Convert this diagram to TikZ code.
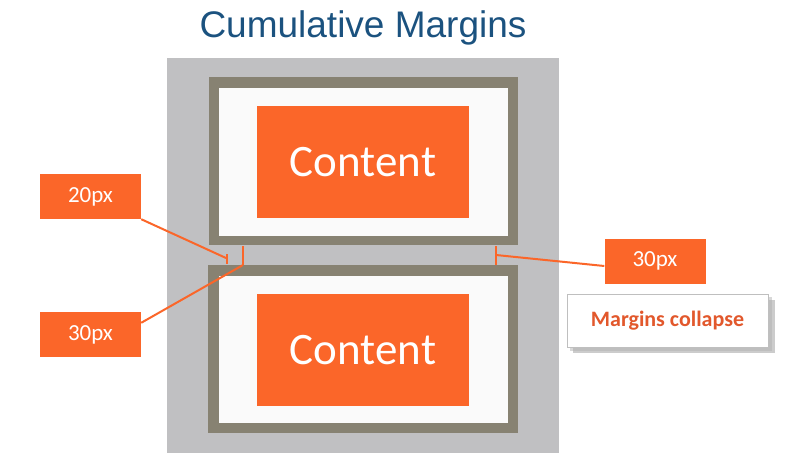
\documentclass[tikz,border=0pt]{standalone}
\usepackage{fontspec}
\setmainfont{Carlito}
\newfontfamily\titlefont{Liberation Sans}
\usetikzlibrary{calc}
\definecolor{bggray}{HTML}{C0C0C2}
\definecolor{taupe}{HTML}{878272}
\definecolor{innerw}{HTML}{FAFAFA}
\definecolor{orng}{HTML}{FB6629}
\definecolor{ttlblue}{HTML}{1B527F}
\definecolor{mctext}{HTML}{E2582C}
\tikzset{
  contentbox/.style={fill=orng, text=white, inner sep=0pt, minimum width=212pt, minimum height=112pt, font=\fontsize{45}{50}\selectfont},
  lbl/.style={fill=orng, text=white, inner sep=0pt, minimum width=101pt, minimum height=45pt, font=\fontsize{23}{26}\selectfont},
  conn/.style={draw=orng, line width=2pt},
  tick/.style={draw=orng, line width=2pt},
}
\begin{document}
\begin{tikzpicture}[x=1pt,y=-1pt]
\useasboundingbox (0,0) rectangle (797,463);
% title
\node[font=\titlefont\fontsize{37}{40}\selectfont, text=ttlblue] (title) at (363,28) {Cumulative Margins};
% gray background
\node[fill=bggray, inner sep=0pt, minimum width=392pt, minimum height=395pt] (bg) at (363,255.5) {};
% top box
\node[fill=taupe, inner sep=0pt, minimum width=309pt, minimum height=168pt] (topout) at (363.5,161) {};
\node[fill=innerw, inner sep=0pt, minimum width=289pt, minimum height=148pt] (topin) at (363.5,162) {};
\node[contentbox] (c1) at (363,162) {\raisebox{-3pt}{Content}};
% bottom box
\node[fill=taupe, inner sep=0pt, minimum width=310pt, minimum height=168pt] (botout) at (363,349) {};
\node[fill=innerw, inner sep=0pt, minimum width=289pt, minimum height=147pt] (botin) at (363.5,349.5) {};
\node[contentbox] (c2) at (363,350) {\raisebox{-3pt}{Content}};
% ticks
\coordinate (t1a) at (227,254);
\coordinate (t1b) at (227,264);
\coordinate (t2a) at (243,246);
\coordinate (t2b) at (243,265);
\coordinate (t3a) at (496,246);
\coordinate (t3b) at (496,265);
\coordinate (t3m) at (496,255);
\draw[tick] (t1a) -- (t1b);
\draw[tick] (t2a) -- (t2b);
\draw[tick] (t3a) -- (t3b);
% labels
\node[lbl] (l1) at (90.5,196.5) {20px};
\node[lbl] (l2) at (90.5,334.5) {30px};
\node[lbl] (r1) at (655,261) {30px};
% connectors
\coordinate (e1) at (226,258);
\draw[conn] (l1.south east) -- (e1);
\draw[conn] ($(l2.north east)+(0,11)$) -- (t2b);
\draw[conn] (t3m) -- ($(r1.west)+(0,5)$);
% margins collapse
\fill[black!40, opacity=0.5] (573,300) rectangle (775,353);
\fill[black!30, opacity=0.5] (570,297) rectangle (772,351);
\node[fill=white, draw=black!25, line width=0.6pt, inner sep=0pt, minimum width=201pt, minimum height=53pt, text=mctext, font=\bfseries\fontsize{22}{25}\selectfont] (mc) at (667.5,320.5) {Margins collapse};
\end{tikzpicture}
\end{document}
